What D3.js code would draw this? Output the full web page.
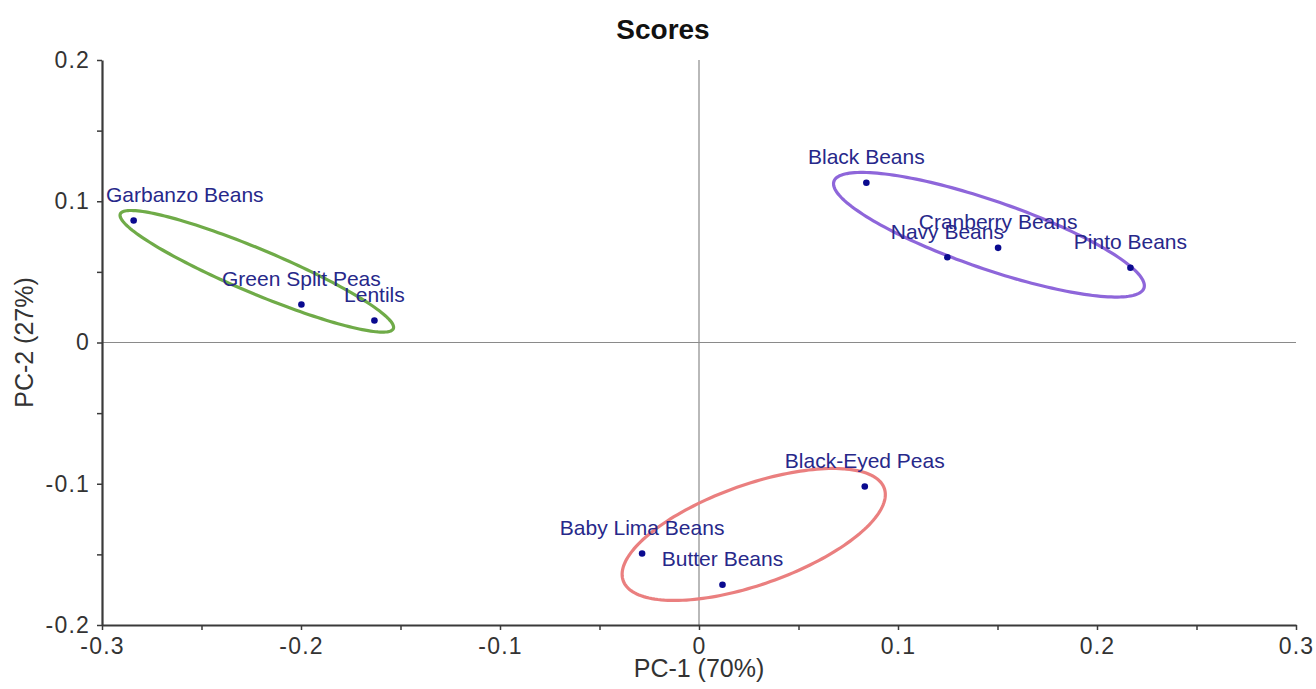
<!DOCTYPE html>
<html>
<head>
<meta charset="utf-8">
<script src="https://cdnjs.cloudflare.com/ajax/libs/d3/7.8.5/d3.min.js"></script>
<style>
  body { margin: 0; background: #fff; }
  svg { display: block; font-family: "Liberation Sans", Arial, sans-serif; }
</style>
</head>
<body>
<svg id="chart"></svg>
<script>
// score values
var names = ["Garbanzo Beans", "Green Split Peas", "Lentils", "Black Beans", "Navy Beans",
             "Cranberry Beans", "Pinto Beans", "Black-Eyed Peas", "Baby Lima Beans", "Butter Beans"];
var pc1 = [-0.2841, -0.1998, -0.1631, 0.0841, 0.1248, 0.1503, 0.2168, 0.0833, -0.0286, 0.0118];
var pc2 = [0.0864, 0.0269, 0.0156, 0.1131, 0.0604, 0.0670, 0.0529, -0.1019, -0.1494, -0.1715];

// group ellipses: centre and the two half-axis vectors, all in score units
var ellCx = [-0.2222, 0.1457, 0.0275];
var ellCy = [0.0504, 0.0763, -0.1359];
var ellU = [[0.0686, -0.0406], [0.0779, -0.0378], [0.0656, 0.0327]];
var ellV = [[-0.00429, -0.01436], [-0.00556, -0.02276], [0.00839, -0.03337]];
var ellColors = ["#6fab48", "#8e66da", "#ea7f7f"];

var xTicks = [-0.3, -0.2, -0.1, 0, 0.1, 0.2, 0.3];
var yTicks = [-0.2, -0.1, 0, 0.1, 0.2];
var minorTicks = [-0.25, -0.15, -0.05, 0.05, 0.15, 0.25];
var yMinor = [-0.15, -0.05, 0.05, 0.15];

var width = 1316, height = 689;
var margin = { top: 60, right: 20, bottom: 64, left: 102 };

var svg = d3.select("#chart")
    .attr("width", width)
    .attr("height", height);

var x = d3.scaleLinear().domain([-0.3, 0.3]).range([margin.left, width - margin.right]);
var y = d3.scaleLinear().domain([-0.2, 0.2]).range([height - margin.bottom, margin.top]);

// plain hyphen for negatives, like the original
var fmt = function(d) { return d === 0 ? "0" : d3.format(".1f")(d).replace("\u2212", "-"); };

// zero lines
svg.append("line")
    .attr("x1", x(0)).attr("x2", x(0))
    .attr("y1", y(0.2)).attr("y2", y(-0.2))
    .attr("stroke", "#8a8a8a").attr("stroke-width", 1.2);
svg.append("line")
    .attr("x1", x(-0.3)).attr("x2", x(0.3))
    .attr("y1", y(0)).attr("y2", y(0))
    .attr("stroke", "#8a8a8a").attr("stroke-width", 1.2);

// axes
var xAxis = svg.append("g")
    .attr("transform", "translate(0," + y(-0.2) + ")")
    .call(d3.axisBottom(x).tickValues(xTicks.concat(minorTicks)).tickSize(5).tickSizeOuter(0)
        .tickFormat(function(d) { return xTicks.indexOf(d) >= 0 ? fmt(d) : ""; }));
var yAxis = svg.append("g")
    .attr("transform", "translate(" + x(-0.3) + ",0)")
    .call(d3.axisLeft(y).tickValues(yTicks.concat(yMinor)).tickSize(5).tickSizeOuter(0)
        .tickFormat(function(d) { return yTicks.indexOf(d) >= 0 ? fmt(d) : ""; }));

[xAxis, yAxis].forEach(function(g) {
  g.select(".domain").attr("stroke", "#3a3a3a").attr("stroke-width", 2.2);
  g.selectAll(".tick line").attr("stroke", "#3a3a3a").attr("stroke-width", 1.5);
  g.selectAll(".tick text")
      .attr("fill", "#333")
      .style("font-size", "23px")
      .style("letter-spacing", "1.2px")
      .style("font-family", "'Liberation Sans', Arial, sans-serif");
});
xAxis.selectAll(".tick text").attr("y", 13).attr("dy", "0.71em");
yAxis.selectAll(".tick text").attr("x", -12);

// ellipses
var line = d3.line().curve(d3.curveLinearClosed);
ellCx.forEach(function(cx, i) {
  var pts = d3.range(0, 360, 2).map(function(deg) {
    var t = deg * Math.PI / 180;
    var dx = ellU[i][0] * Math.cos(t) + ellV[i][0] * Math.sin(t);
    var dy = ellU[i][1] * Math.cos(t) + ellV[i][1] * Math.sin(t);
    return [x(cx + dx), y(ellCy[i] + dy)];
  });
  svg.append("path")
      .attr("d", line(pts))
      .attr("fill", "none")
      .attr("stroke", ellColors[i])
      .attr("stroke-width", 3.2);
});

// points
svg.append("g")
    .selectAll("circle")
    .data(names)
    .enter().append("circle")
    .attr("cx", function(d, i) { return x(pc1[i]); })
    .attr("cy", function(d, i) { return y(pc2[i]); })
    .attr("r", 3.3)
    .attr("fill", "#0a0a8f");

// point labels, centred above each point but kept inside the plot
svg.append("g")
    .selectAll("text")
    .data(names)
    .enter().append("text")
    .attr("x", function(d, i) { return x(pc1[i]); })
    .attr("y", function(d, i) { return y(pc2[i]) - 18.5; })
    .attr("text-anchor", "middle")
    .attr("fill", "#27288a")
    .style("font-size", "21px")
    .text(function(d) { return d; })
    .each(function() {
      var w = this.getComputedTextLength();
      var cx = +d3.select(this).attr("x");
      if (cx - w / 2 < margin.left + 4) d3.select(this).attr("x", margin.left + 4 + w / 2);
    });

// title and axis titles
svg.append("text")
    .attr("x", 663).attr("y", 39)
    .attr("text-anchor", "middle")
    .style("font-size", "28px")
    .style("font-weight", "bold")
    .attr("fill", "#111")
    .text("Scores");

svg.append("text")
    .attr("x", x(0)).attr("y", 677)
    .attr("text-anchor", "middle")
    .style("font-size", "25px")
    .attr("fill", "#333")
    .text("PC-1 (70%)");

svg.append("text")
    .attr("transform", "translate(33," + y(0) + ") rotate(-90)")
    .attr("text-anchor", "middle")
    .style("font-size", "25px")
    .attr("fill", "#333")
    .text("PC-2 (27%)");
</script>
</body>
</html>
